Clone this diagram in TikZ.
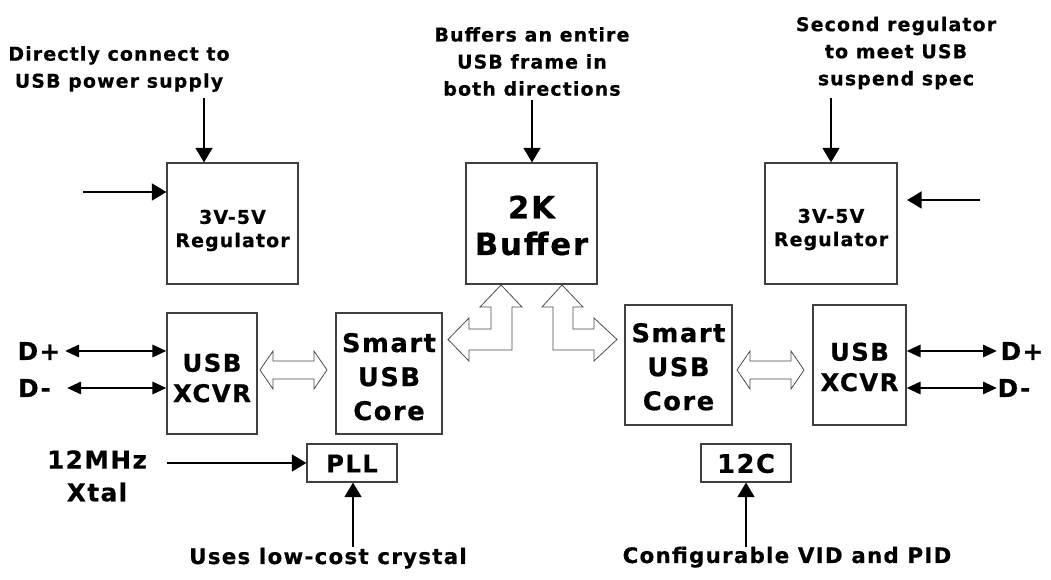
\documentclass[tikz,border=0pt]{standalone}
\usepackage{fontspec}
\setmainfont{DejaVu Sans}[LetterSpace=6,BoldFeatures={FakeBold=0.6}]
\usetikzlibrary{arrows.meta,calc}
\begin{document}
\begin{tikzpicture}[x=0.75pt,y=-0.75pt,
  box/.style={draw=black!75,line width=0.8pt,inner sep=0pt},
  intxt/.style={inner sep=0pt,align=center},
  boxtxt/.style={intxt,font=\bfseries\fontsize{14.2}{17.5}\selectfont},
  bigtxt/.style={intxt,font=\bfseries\fontsize{19.3}{25.5}\selectfont},
  smalltxt/.style={intxt,font=\bfseries\fontsize{18.2}{25.5}\selectfont},
  xcvrtxt/.style={intxt,font=\bfseries\fontsize{18.3}{22.8}\selectfont},
  hugetxt/.style={intxt,font=\bfseries\fontsize{23}{27.5}\selectfont},
  note/.style={font=\bfseries\fontsize{14.2}{20.3}\selectfont,align=center,inner sep=0pt},
  lbl/.style={font=\bfseries\fontsize{16}{24.5}\selectfont,align=center,inner sep=0pt},
  biglbl/.style={font=\bfseries\fontsize{18.5}{24.5}\selectfont,align=center,inner sep=0pt},
  arr/.style={line width=2.2pt,-{Triangle[length=11pt,width=12.5pt]}},
  darr/.style={line width=2.2pt,{Triangle[length=10.5pt,width=9pt]}-{Triangle[length=10.5pt,width=9pt]}},
  hollow/.style={draw=black!70,line width=0.6pt,fill=white,line join=miter}]
\useasboundingbox (0,0) rectangle (1051,580);
% boxes
\node[box,minimum width=98.25pt,minimum height=90.75pt] (regL) at (232.5,223.5) {};
\node[box,minimum width=98.25pt,minimum height=90.75pt] (buf) at (531.5,223.5) {};
\node[box,minimum width=99pt,minimum height=90.75pt] (regR) at (831,223.5) {};
\node[box,minimum width=67.5pt,minimum height=90.75pt] (xcvrL) at (212,373.5) {};
\node[box,minimum width=79.5pt,minimum height=90.75pt] (coreL) at (389,373.5) {};
\node[box,minimum width=67.5pt,minimum height=28.5pt] (pll) at (352,463) {};
\node[box,minimum width=80.25pt,minimum height=90pt] (coreR) at (678.5,365) {};
\node[box,minimum width=69.75pt,minimum height=90pt] (xcvrR) at (859.5,365) {};
\node[box,minimum width=67.5pt,minimum height=28.5pt] (i2c) at (746,463) {};
% box texts
\node[boxtxt] (regLt) at (232.5,230.5) {3V-5V\\Regulator};
\node[hugetxt] (buft) at (531.5,225.5) {2K\\Buffer};
\node[boxtxt] (regRt) at (831,229.5) {3V-5V\\Regulator};
\node[xcvrtxt] (xcvrLt) at (212,378) {USB\\XCVR};
\node[bigtxt] (coreLt) at (389,376.7) {Smart\\USB\\Core};
\node[smalltxt] (pllt) at (352,463.5) {PLL};
\node[bigtxt] (coreRt) at (678.5,366.8) {Smart\\USB\\Core};
\node[xcvrtxt] (xcvrRt) at (859.5,367) {USB\\XCVR};
\node[bigtxt] (i2ct) at (746,463.5) {12C};
% notes
\node[note] (nA) at (119,69) {Directly connect to\\USB power supply};
\node[note] (nB) at (532,61.5) {Buffers an entire\\USB frame in\\both directions};
\node[note] (nC) at (896,53) {Second regulator\\to meet USB\\suspend spec};
\node[lbl,anchor=base] (nD) at (328,564) {Uses low-cost crystal};
\node[lbl,anchor=base] (nE) at (787,563) {Configurable VID and PID};
\node[biglbl] (xtal) at (97,476) {12MHz\\Xtal};
\node[biglbl] (dpL) at (39,351) {D+};
\node[biglbl] (dmL) at (34.5,388) {D-};
\node[biglbl] (dpR) at (1022,351) {D+};
\node[biglbl] (dmR) at (1014,388) {D-};
% free ends
\coordinate (aA) at (204,98);
\coordinate (aL) at (83,192);
\coordinate (aB) at (532,100);
\coordinate (aC) at (831,98);
\coordinate (aR) at (980,200);
\coordinate (aRt) at (907,200);
\coordinate (dpLs) at (65,351);
\coordinate (dmLs) at (67,388);
\coordinate (dpRs) at (997,351);
\coordinate (dmRs) at (997,388);
\coordinate (xs) at (167,463);
\coordinate (ps) at (353,547);
\coordinate (is) at (746,547);
% arrows
\draw[arr] (aA) -- (aA |- regL.north);
\draw[arr] (aL) -- (aL -| regL.west);
\draw[arr] (aB) -- (aB |- buf.north);
\draw[arr] (aC) -- (aC |- regR.north);
\draw[arr] (aR) -- (aRt);
\draw[darr] (dpLs) -- (dpLs -| xcvrL.west);
\draw[darr] (dmLs) -- (dmLs -| xcvrL.west);
\draw[darr] (dpRs -| xcvrR.east) -- (dpRs);
\draw[darr] (dmRs -| xcvrR.east) -- (dmRs);
\draw[arr] (xs) -- (xs -| pll.west);
\draw[arr] (ps) -- (ps |- pll.south);
\draw[arr] (is) -- (is |- i2c.south);
% hollow double arrows
\draw[hollow] (260,370) -- (273,351) -- (273,361) -- (314,361) -- (314,351) -- (327,370) -- (314,389) -- (314,379) -- (273,379) -- (273,389) -- cycle;
\draw[hollow] (737,370) -- (750,351) -- (750,361) -- (791,361) -- (791,351) -- (804,370) -- (791,389) -- (791,379) -- (750,379) -- (750,389) -- cycle;
% L-shaped hollow arrows
\draw[hollow] (501,285) -- (522,307) -- (512,307) -- (512,350) -- (469,350) -- (469,361) -- (448,339.5) -- (469,318) -- (469,329) -- (491,329) -- (491,307) -- (480,307) -- cycle;
\draw[hollow] (562,285) -- (583,307) -- (573,307) -- (573,329) -- (594,329) -- (594,318) -- (617,339.5) -- (594,361) -- (594,350) -- (553,350) -- (553,307) -- (542,307) -- cycle;
\end{tikzpicture}
\end{document}
